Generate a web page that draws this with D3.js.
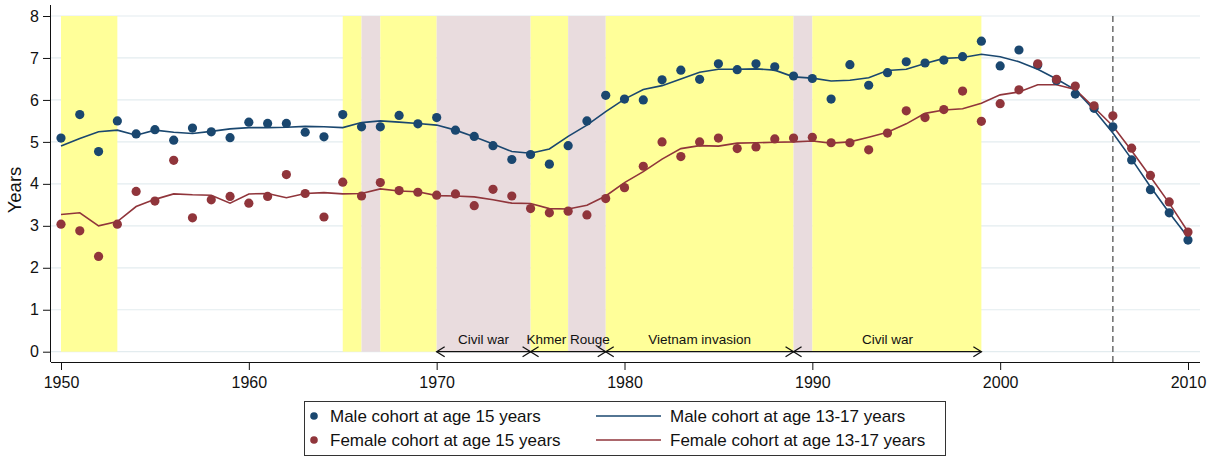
<!DOCTYPE html>
<html>
<head>
<meta charset="utf-8">
<script src="https://cdn.jsdelivr.net/npm/d3@7"></script>
<style>
  body { margin: 0; background: #fff; }
  text { font-family: "Liberation Sans", Arial, sans-serif; fill: #111; }
</style>
</head>
<body>
<div class="chart"></div>
<script>
const years = d3.range(1950, 2011);

const maleDots = [5.09, 5.65, 4.77, 5.50, 5.19, 5.29, 5.04, 5.33, 5.24, 5.10,
  5.47, 5.44, 5.44, 5.23, 5.12, 5.65, 5.36, 5.36, 5.63, 5.43,
  5.58, 5.28, 5.13, 4.91, 4.58, 4.70, 4.47, 4.91, 5.50, 6.11,
  6.02, 6.00, 6.48, 6.71, 6.49, 6.86, 6.72, 6.86, 6.79, 6.57,
  6.51, 6.02, 6.84, 6.35, 6.65, 6.91, 6.88, 6.95, 7.03, 7.40,
  6.81, 7.19, 6.83, 6.46, 6.14, 5.80, 5.36, 4.57, 3.86, 3.31, 2.66];

const maleLine = [4.90, 5.08, 5.24, 5.28, 5.16, 5.28, 5.23, 5.20, 5.25, 5.31,
  5.34, 5.34, 5.35, 5.37, 5.36, 5.34, 5.46, 5.50, 5.47, 5.44,
  5.40, 5.28, 5.12, 4.95, 4.77, 4.73, 4.83, 5.13, 5.40, 5.72,
  6.02, 6.25, 6.34, 6.50, 6.66, 6.73, 6.73, 6.74, 6.71, 6.55,
  6.52, 6.45, 6.47, 6.53, 6.70, 6.73, 6.87, 6.99, 7.01, 7.09,
  7.03, 6.91, 6.73, 6.50, 6.24, 5.76, 5.21, 4.59, 3.93, 3.31, 2.73];

const femaleDots = [3.04, 2.88, 2.27, 3.04, 3.82, 3.59, 4.56, 3.19, 3.62, 3.70,
  3.54, 3.70, 4.22, 3.77, 3.21, 4.04, 3.71, 4.03, 3.84, 3.80,
  3.73, 3.76, 3.48, 3.87, 3.71, 3.41, 3.31, 3.35, 3.26, 3.65,
  3.91, 4.42, 5.00, 4.65, 5.00, 5.09, 4.84, 4.88, 5.07, 5.09,
  5.11, 4.98, 4.98, 4.81, 5.21, 5.74, 5.58, 5.77, 6.21, 5.49,
  5.91, 6.24, 6.86, 6.49, 6.33, 5.86, 5.62, 4.85, 4.20, 3.57, 2.85];

const femaleLine = [3.27, 3.31, 3.00, 3.10, 3.46, 3.63, 3.76, 3.74, 3.73, 3.54,
  3.76, 3.77, 3.67, 3.77, 3.79, 3.76, 3.77, 3.88, 3.83, 3.81,
  3.72, 3.71, 3.69, 3.62, 3.54, 3.53, 3.41, 3.40, 3.49, 3.71,
  4.03, 4.29, 4.59, 4.84, 4.91, 4.90, 4.97, 4.98, 4.99, 5.00,
  5.02, 4.97, 5.00, 5.11, 5.23, 5.43, 5.68, 5.76, 5.79, 5.92,
  6.12, 6.19, 6.36, 6.36, 6.25, 5.82, 5.38, 4.79, 4.17, 3.54, 2.86];

const xTicks = [1950, 1960, 1970, 1980, 1990, 2000, 2010];
const yTicks = [0, 1, 2, 3, 4, 5, 6, 7, 8];

// shaded periods: [start, end, kind]
const bandStart = [1950, 1965, 1966, 1967, 1970, 1975, 1977, 1979, 1989, 1990];
const bandEnd   = [1953, 1966, 1967, 1970, 1975, 1977, 1979, 1989, 1990, 1999];
const bandKind  = ['y', 'y', 'p', 'y', 'p', 'y', 'p', 'y', 'p', 'y'];

const eventStart = [1970, 1975, 1979, 1989];
const eventEnd   = [1975, 1979, 1989, 1999];
const eventName  = ['Civil war', 'Khmer Rouge', 'Vietnam invasion', 'Civil war'];

const markYear = 2006;

const navy = '#1a476f', maroon = '#90353b';

const svg = d3.select('.chart')
  .append('svg')
    .attr('width', 1215)
    .attr('height', 457);

const x = d3.scaleLinear().domain([1950, 2010]).range([61, 1188]);
const y = d3.scaleLinear().domain([0, 8]).range([351.7, 16]);

// grid
svg.append('g')
  .selectAll('line')
  .data(yTicks)
  .enter().append('line')
    .attr('x1', 51).attr('x2', 1200)
    .attr('y1', d => y(d)).attr('y2', d => y(d))
    .attr('stroke', '#e3ecef')
    .attr('stroke-width', 1.2);

// bands
svg.append('g')
  .selectAll('rect')
  .data(bandStart)
  .enter().append('rect')
    .attr('x', (d, i) => x(d))
    .attr('width', (d, i) => x(bandEnd[i]) - x(d))
    .attr('y', y(8))
    .attr('height', y(0) - y(8))
    .attr('fill', (d, i) => bandKind[i] === 'y' ? '#ffff99' : '#e9dcde');

// dashed line
svg.append('line')
  .attr('x1', x(markYear)).attr('x2', x(markYear))
  .attr('y1', y(8)).attr('y2', 362)
  .attr('stroke', '#555')
  .attr('stroke-width', 1.3)
  .attr('stroke-dasharray', '6,4');

// axes
const xAxis = svg.append('g')
  .attr('transform', 'translate(0,362)')
  .call(d3.axisBottom(x).tickValues(xTicks).tickFormat(d3.format('d')).tickSize(8).tickPadding(7));
xAxis.select('.domain').attr('d', 'M51,0.5H1200');
xAxis.selectAll('text').style('font-size', '16px').attr('fill', '#111');

const yAxis = svg.append('g')
  .attr('transform', 'translate(51,0)')
  .call(d3.axisLeft(y).tickValues(yTicks).tickSize(8).tickPadding(4));
yAxis.select('.domain').attr('d', 'M-0.5,5V362');
yAxis.selectAll('text').style('font-size', '16px').attr('fill', '#111');
svg.selectAll('.domain, .tick line').attr('stroke', '#111');

svg.append('text')
  .attr('transform', 'translate(20.5,190) rotate(-90)')
  .attr('text-anchor', 'middle')
  .style('font-size', '18.5px')
  .text('Years');

// event arrows
const ev = svg.append('g')
  .selectAll('g')
  .data(eventStart)
  .enter().append('g');

ev.append('line')
  .attr('x1', d => x(d)).attr('x2', (d, i) => x(eventEnd[i]))
  .attr('y1', y(0)).attr('y2', y(0))
  .attr('stroke', '#111').attr('stroke-width', 1.3);

ev.append('path')
  .attr('d', d => `M${x(d) + 8},${y(0) - 5}L${x(d)},${y(0)}L${x(d) + 8},${y(0) + 5}`)
  .attr('fill', 'none').attr('stroke', '#111').attr('stroke-width', 1.3);

ev.append('path')
  .attr('d', (d, i) => { const e = x(eventEnd[i]); return `M${e - 8},${y(0) - 5}L${e},${y(0)}L${e - 8},${y(0) + 5}`; })
  .attr('fill', 'none').attr('stroke', '#111').attr('stroke-width', 1.3);

ev.append('text')
  .attr('x', (d, i) => x((d + eventEnd[i]) / 2))
  .attr('y', y(0) - 8)
  .attr('text-anchor', 'middle')
  .style('font-size', '13.5px')
  .text((d, i) => eventName[i]);

// series
const line = d3.line().x((d, i) => x(years[i])).y(d => y(d));

svg.append('path').datum(maleLine)
  .attr('d', line).attr('fill', 'none').attr('stroke', navy).attr('stroke-width', 1.6);
svg.append('path').datum(femaleLine)
  .attr('d', line).attr('fill', 'none').attr('stroke', maroon).attr('stroke-width', 1.6);

svg.append('g').selectAll('circle')
  .data(maleDots)
  .enter().append('circle')
    .attr('cx', (d, i) => x(years[i])).attr('cy', d => y(d))
    .attr('r', 4.6).attr('fill', navy);

svg.append('g').selectAll('circle')
  .data(femaleDots)
  .enter().append('circle')
    .attr('cx', (d, i) => x(years[i])).attr('cy', d => y(d))
    .attr('r', 4.6).attr('fill', maroon);

// legend
const legend = svg.append('g');
legend.append('rect')
  .attr('x', 304.5).attr('y', 401.5).attr('width', 641).attr('height', 54)
  .attr('fill', '#fff').attr('stroke', '#333');

const legItems = [
  { label: 'Male cohort at age 15 years', color: navy, dot: true, col: 0, row: 0 },
  { label: 'Female cohort at age 15 years', color: maroon, dot: true, col: 0, row: 1 },
  { label: 'Male cohort at age 13-17 years', color: navy, dot: false, col: 1, row: 0 },
  { label: 'Female cohort at age 13-17 years', color: maroon, dot: false, col: 1, row: 1 }
];

const li = legend.selectAll('g')
  .data(legItems)
  .enter().append('g')
    .attr('transform', d => 'translate(' + (d.col ? 596 : 314) + ',' + (d.row ? 440 : 416) + ')');

li.filter(d => d.dot).append('circle')
  .attr('r', 3.8).attr('fill', d => d.color);
li.filter(d => !d.dot).append('line')
  .attr('x1', 0).attr('x2', 65)
  .attr('stroke', d => d.color).attr('stroke-width', 1.5);
li.append('text')
  .attr('x', d => d.dot ? 16 : 74)
  .attr('y', 6)
  .style('font-size', '17px')
  .text(d => d.label);
</script>
</body>
</html>
